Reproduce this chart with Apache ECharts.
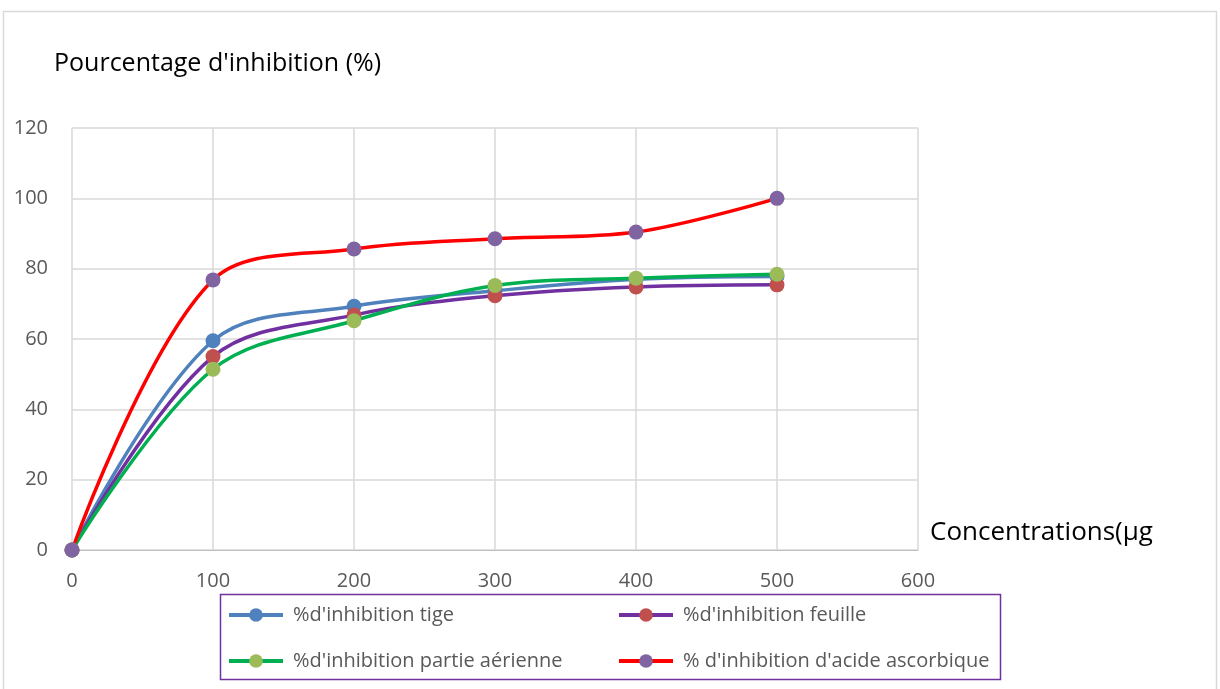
<!DOCTYPE html>
<html>
<head>
<meta charset="utf-8">
<script src="https://cdn.jsdelivr.net/npm/echarts@6/dist/echarts.min.js"></script>
<style>
  html, body { margin: 0; padding: 0; background: #ffffff; }
  #chart { width: 1220px; height: 689px; }
</style>
</head>
<body>
<div id="chart"></div>
<script>
// Concentrations (µg) on the x axis
const concentrations = [0, 100, 200, 300, 400, 500];

// Inhibition percentages per extract
const tige = [0, 59.5, 69.3, 73.7, 77.0, 77.8];
const feuille = [0, 55.0, 66.8, 72.3, 74.8, 75.4];
const partieAerienne = [0, 51.4, 65.2, 75.2, 77.3, 78.4];
const acideAscorbique = [0, 76.8, 85.6, 88.5, 90.4, 100];

const seriesNames = [
  "%d'inhibition tige",
  "%d'inhibition feuille",
  "%d'inhibition partie aérienne",
  "% d'inhibition d'acide ascorbique"
];

const FONT = "'Open Sans', 'Noto Sans', sans-serif";
const chart = echarts.init(document.getElementById('chart'), null, { renderer: 'canvas' });

function pairs(values) {
  return concentrations.map((x, i) => [x, values[i]]);
}

function lineSeries(name, values, lineColor, markerColor) {
  return {
    name: name,
    type: 'line',
    data: pairs(values),
    smooth: 0.35,
    symbol: 'circle',
    symbolSize: 15,
    lineStyle: { color: lineColor, width: 3.5 },
    itemStyle: { color: markerColor },
    emphasis: { disabled: true },
    animation: false
  };
}

function legendAt(name, left, top) {
  return {
    data: [name],
    left: left,
    top: top,
    padding: 0,
    itemWidth: 54,
    itemHeight: 17,
    selectedMode: false,
    lineStyle: { width: 4 },
    textStyle: {
      fontFamily: FONT,
      fontSize: 20,
      color: '#595959',
      lineHeight: 22,
      padding: [0, 0, 0, 5]
    }
  };
}

chart.setOption({
  backgroundColor: '#ffffff',
  animation: false,
  grid: { left: 72, right: 302, top: 128, bottom: 139, containLabel: false },
  xAxis: {
    type: 'value',
    min: 0,
    max: 600,
    interval: 100,
    axisLine: { show: true, lineStyle: { color: '#bfbfbf', width: 1 } },
    axisTick: { show: false },
    axisLabel: { margin: 21, fontFamily: FONT, fontSize: 20, color: '#595959' },
    splitLine: { show: true, lineStyle: { color: '#d9d9d9', width: 1.5 } }
  },
  yAxis: {
    type: 'value',
    min: 0,
    max: 120,
    interval: 20,
    axisLine: { show: false },
    axisTick: { show: false },
    axisLabel: { margin: 24, fontFamily: FONT, fontSize: 20, color: '#595959' },
    splitLine: { show: true, lineStyle: { color: '#d9d9d9', width: 1.5 } }
  },
  legend: [
    legendAt(seriesNames[0], 227, 604),
    legendAt(seriesNames[1], 617, 604),
    legendAt(seriesNames[2], 227, 650),
    legendAt(seriesNames[3], 617, 650)
  ],
  graphic: [
    {
      type: 'rect',
      shape: { x: 3.5, y: 11.5, width: 1213, height: 690 },
      style: { fill: 'none', stroke: '#d9d9d9', lineWidth: 1.5 },
      silent: true, z: -10
    },
    {
      type: 'rect',
      shape: { x: 220.5, y: 594.5, width: 780, height: 85 },
      style: { fill: 'none', stroke: '#7030A0', lineWidth: 1.5 },
      silent: true
    },
    {
      type: 'text',
      left: 54,
      top: 51,
      style: { text: "Pourcentage d'inhibition (%)", fontFamily: FONT, fontSize: 25, fill: '#000000' },
      silent: true
    },
    {
      type: 'text',
      left: 930,
      top: 520,
      style: { text: 'Concentrations(µg', fontFamily: FONT, fontSize: 26, fill: '#000000' },
      silent: true
    }
  ],
  series: [
    lineSeries(seriesNames[0], tige, '#4F81BD', '#4F81BD'),
    lineSeries(seriesNames[1], feuille, '#7030A0', '#C0504D'),
    lineSeries(seriesNames[2], partieAerienne, '#00B050', '#9BBB59'),
    lineSeries(seriesNames[3], acideAscorbique, '#FF0000', '#8064A2')
  ]
});
</script>
</body>
</html>
